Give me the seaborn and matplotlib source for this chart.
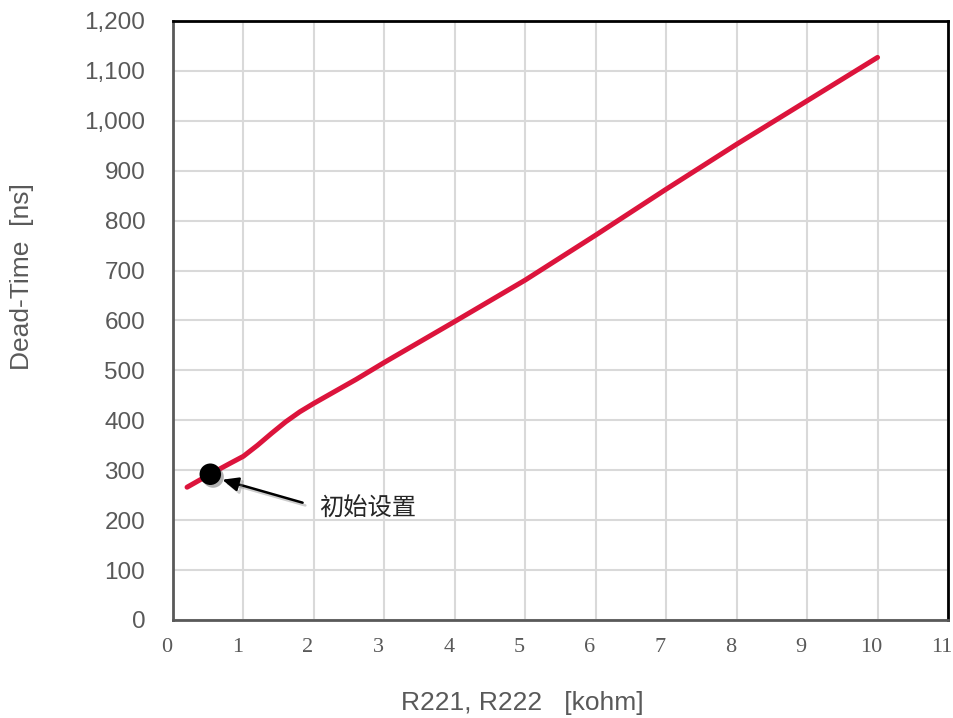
import matplotlib
matplotlib.use("Agg")
import matplotlib.pyplot as plt
import matplotlib.patheffects as pe
import matplotlib.transforms as mtransforms
from matplotlib.ticker import FuncFormatter
import seaborn as sns
import pandas as pd

# data
r_kohm = [0.2, 0.5, 0.8, 1.0, 1.2, 1.4, 1.6, 1.8, 2.0, 2.3, 2.6, 3.0, 4.0, 5.0, 6.0, 7.0, 8.0, 9.0, 10.0]
dead_time_ns = [266, 290, 313, 328, 350, 374, 397, 417, 434, 458, 482, 516, 598, 681, 771, 863, 953, 1040, 1127]
init_x = [0.53]
init_y = [292]
note_text = "初始设置"
x_label = "R221, R222   [kohm]"
y_label = "Dead-Time  [ns]"
x_ticks = list(range(0, 12))
y_ticks = list(range(0, 1300, 100))

sns.set_theme(style="white")
plt.rcParams['font.family'] = ['Liberation Sans', 'Noto Sans CJK SC', 'DejaVu Sans']

fig = plt.figure(figsize=(9.54, 7.18), dpi=100)
ax = fig.add_axes([0.1813, 0.1365, 0.8124, 0.8343])

df = pd.DataFrame({"x": r_kohm, "y": dead_time_ns})
sns.lineplot(data=df, x="x", y="y", ax=ax, color="#DC143C", linewidth=3.6,
             solid_capstyle="round", solid_joinstyle="round", zorder=3)

sns.scatterplot(x=init_x, y=init_y, ax=ax, s=240, color="black", edgecolor="black",
                zorder=5, linewidth=0,
                path_effects=[pe.SimplePatchShadow(offset=(2, -2), shadow_rgbFace="0.4", alpha=0.5), pe.Normal()])

ax.annotate("", xy=(0.70, 281), xytext=(1.84, 235),
            arrowprops=dict(arrowstyle="-|>,head_length=0.8,head_width=0.35", color="black", lw=1.8,
                            shrinkA=0, shrinkB=0,
                            path_effects=[pe.SimpleLineShadow(offset=(2, -2), shadow_color="0.5", alpha=0.4), pe.Normal()]),
            zorder=6)
ax.text(2.07, 222, note_text, fontsize=17.5, color="#262626", va="center", ha="left",
        family=['Noto Sans CJK SC', 'DejaVu Sans'])

ax.set_xlim(0, 11)
ax.set_ylim(0, 1200)
ax.set_xticks(x_ticks)
ax.set_yticks(y_ticks)
ax.yaxis.set_major_formatter(FuncFormatter(lambda v, p: f"{int(v):,}"))
ax.grid(True, color="#D9D9D9", linewidth=1.5)
ax.set_axisbelow(True)
ax.set_xlabel("")
ax.set_ylabel("")

ax.tick_params(axis="y", length=0, pad=20, labelsize=17.5, labelcolor="#595959")
ax.tick_params(axis="x", length=0, pad=13, labelsize=16, labelcolor="#595959")
shift = mtransforms.ScaledTranslation(-6 / 100, 0, fig.dpi_scale_trans)
for lab in ax.get_xticklabels():
    lab.set_family(['Liberation Serif', 'DejaVu Serif'])
    lab.set_transform(lab.get_transform() + shift)

fig.text(522 / 954, 1 - 703 / 718, x_label, fontsize=19, color="#595959", ha="center", va="center")
fig.text(22 / 954, 1 - 277 / 718, y_label, fontsize=19, color="#595959", ha="center", va="center",
         rotation=90)

for side in ["top", "right"]:
    ax.spines[side].set_color("black")
    ax.spines[side].set_linewidth(2)
for side in ["left", "bottom"]:
    ax.spines[side].set_color("#595959")
    ax.spines[side].set_linewidth(2)

fig.savefig("out.png", dpi=100)
